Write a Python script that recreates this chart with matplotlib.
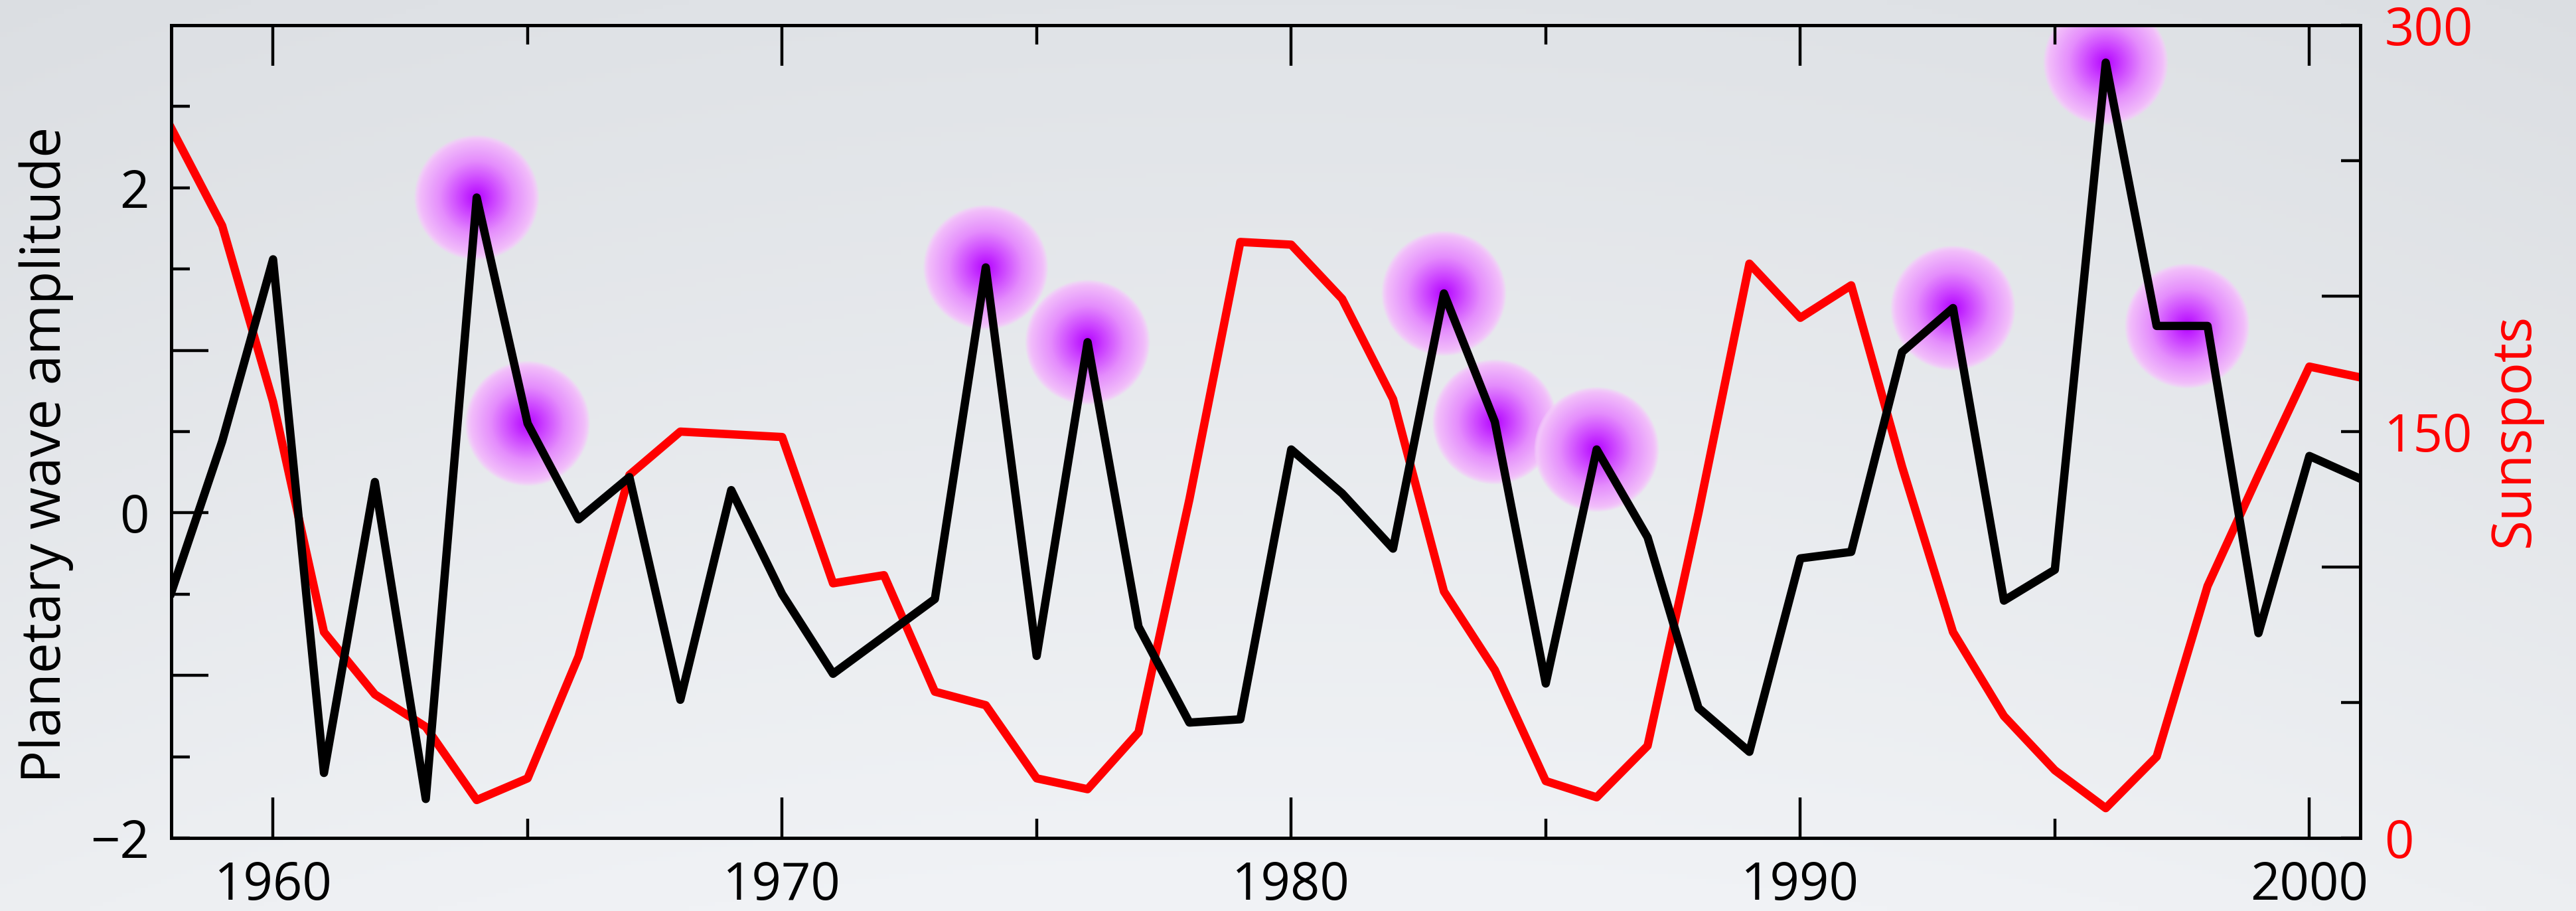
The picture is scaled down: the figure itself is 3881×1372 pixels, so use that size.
import matplotlib.pyplot as plt
import numpy as np

# yearly values
years = np.arange(1958, 2002)

wave_amplitude = [
    -0.49, 0.44, 1.56, -1.60, 0.19, -1.76, 1.94, 0.55, -0.04, 0.22,
    -1.15, 0.14, -0.50, -0.99, -0.76, -0.53, 1.51, -0.88, 1.05, -0.70,
    -1.29, -1.27, 0.39, 0.12, -0.22, 1.35, 0.56, -1.05, 0.39, -0.15,
    -1.20, -1.47, -0.28, -0.24, 0.99, 1.26, -0.54, -0.35, 2.77, 1.15,
    1.15, -0.74, 0.35, 0.21,
]

sunspots = [
    262, 226, 161, 76, 53, 41, 14, 22, 67, 134,
    150, 149, 148, 94, 97, 54, 49, 22, 18, 39,
    125, 220, 219, 199, 162, 91, 62, 21, 15, 34,
    120, 212, 192, 204, 137, 76, 45, 25, 11, 30,
    93, 134, 174, 170,
]

# years marked with a purple glow
highlight_years = [1964, 1965, 1974, 1976, 1983, 1984, 1986, 1993, 1996, 1997.6]

x_major = [1960, 1970, 1980, 1990, 2000]
x_minor = [1965, 1975, 1985, 1995]

plt.rcParams['font.family'] = ['Open Sans', 'DejaVu Sans']

W, H, DPI = 3881, 1372, 100
fig = plt.figure(figsize=(W / DPI, H / DPI), dpi=DPI)

# soft grey slide background
bg = fig.add_axes([0, 0, 1, 1], zorder=-10)
yy, xx = np.mgrid[0:1:200j, 0:1:400j]
top = np.array([224, 227, 231]) / 255
bottom = np.array([241, 243, 246]) / 255
img = top + (bottom - top) * yy[..., None]
img = img - 0.018 * (((xx - 0.5) * 2) ** 2)[..., None]
bg.imshow(np.clip(img, 0, 1), aspect='auto', extent=(0, 1, 0, 1), origin='upper')
bg.axis('off')

ax = fig.add_axes([258 / W, (H - 1262) / H, (3556 - 258) / W, (1262 - 38) / H])
ax2 = ax.twinx()
ax.set_zorder(2)
ax2.set_zorder(1)
ax.patch.set_visible(False)
ax2.patch.set_visible(False)

# glows: stacked discs from lavender rim to violet core
n = 45
t = np.linspace(1.0, 0.02, n)
stops_t = [0.0, 0.3, 0.6, 0.9, 1.0]
stops_c = np.array([[178, 0, 255], [205, 70, 255], [228, 140, 252],
                    [240, 185, 250], [244, 206, 250]]) / 255
cols = np.zeros((n, 4))
for k in range(3):
    cols[:, k] = np.interp(t, stops_t, stops_c[:, k])
cols[:, 3] = np.clip((1.05 - t) / 0.12, 0, 1)
sizes = (135 * t) ** 2
highlight_amp = np.interp(highlight_years, years, wave_amplitude)
for hx, hy in zip(highlight_years, highlight_amp):
    ax.scatter(np.full(n, hx), np.full(n, hy), s=sizes, c=cols, linewidths=0, zorder=1)

ax.plot(years, wave_amplitude, color='black', lw=9, zorder=3)
ax2.plot(years, sunspots, color='#ff0000', lw=9)

ax.set_xlim(1958, 2001)
ax.set_ylim(-2, 3)
ax2.set_ylim(0, 300)

ax.set_xticks(x_major)
ax.set_xticks(x_minor, minor=True)
ax.set_yticks([-1, 0, 1], labels=['', '0', ''])
ax.set_yticks([-2, -1.5, -0.5, 0.5, 1.5, 2, 2.5],
              labels=['\u22122', '', '', '', '', '2', ''], minor=True)
ax2.set_yticks([100, 200], labels=['', ''])
ax2.set_yticks([0, 50, 150, 250, 300], labels=['0', '', '150', '', '300'], minor=True)

ax.tick_params(axis='x', which='both', direction='in', top=True, bottom=True,
               width=3.2, labelsize=56, pad=24, colors='black')
ax.tick_params(axis='x', which='major', length=44)
ax.tick_params(axis='x', which='minor', length=21)
ax.tick_params(axis='y', which='both', direction='in', left=True, right=False,
               width=3.2, labelsize=56, pad=24)
ax.tick_params(axis='y', which='major', length=40)
ax.tick_params(axis='y', which='minor', length=20)
ax2.tick_params(axis='y', which='both', direction='in', right=True, left=False,
                width=3.2, labelsize=56, pad=26, labelcolor='#ff0000')
ax2.tick_params(axis='y', which='major', length=42)
ax2.tick_params(axis='y', which='minor', length=21)

for a in (ax, ax2):
    for s in a.spines.values():
        s.set_linewidth(3.6)

ax.set_ylabel('Planetary wave amplitude', fontsize=59, va='center')
ax.yaxis.set_label_coords(-0.057, 0.4714)
ax2.set_ylabel('Sunspots', fontsize=59, color='#ff0000', va='center', rotation=90)
ax2.yaxis.set_label_coords(1.0704, 0.5016)

fig.savefig('out.png', dpi=DPI)
